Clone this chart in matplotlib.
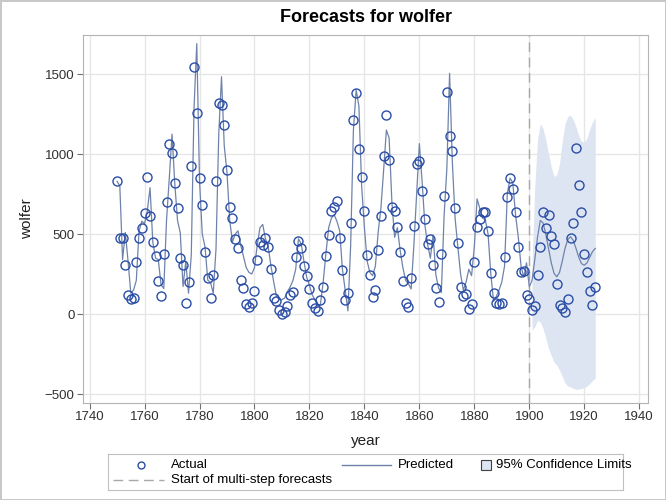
import numpy as np
import matplotlib.pyplot as plt
from matplotlib.lines import Line2D
from matplotlib.patches import Rectangle

plt.rcParams['font.family'] = ['Liberation Sans', 'DejaVu Sans']

# ---------------- Data ----------------

years = np.arange(1750, 1925)
wolfer = [
    834, 477, 478, 307, 122, 96, 102, 324, 476, 540,
    629, 859, 612, 451, 364, 209, 114, 378, 698, 1061,
    1008, 816, 665, 348, 306, 70, 198, 925, 1544, 1259,
    848, 681, 385, 228, 102, 241, 829, 1320, 1309, 1181,
    899, 666, 600, 469, 410, 213, 160, 64, 41, 68,
    145, 340, 450, 431, 475, 422, 281, 101, 81, 25,
    0, 14, 50, 122, 139, 354, 458, 411, 301, 239,
    156, 66, 40, 18, 85, 166, 363, 496, 642, 670,
    709, 478, 275, 85, 132, 569, 1215, 1383, 1032, 857,
    646, 367, 242, 107, 150, 401, 615, 985, 1247, 963,
    666, 645, 541, 390, 206, 67, 43, 227, 548, 938,
    958, 772, 591, 440, 470, 305, 163, 73, 376, 740,
    1390, 1112, 1016, 662, 447, 170, 113, 124, 34, 60,
    323, 543, 597, 637, 635, 522, 254, 131, 68, 63,
    71, 356, 730, 849, 780, 640, 418, 262, 267, 121,
    95, 27, 50, 244, 420, 635, 538, 620, 485, 439,
    186, 57, 36, 14, 96, 474, 571, 1039, 806, 636,
    376, 261, 142, 58, 167,
]
predicted = [
    830, 800, 340, 510, 330, 130, 150, 210, 520, 580,
    565, 645, 790, 450, 350, 340, 184, 159, 588, 850,
    1125, 814, 585, 507, 172, 329, 130, 369, 1286, 1690,
    831, 500, 420, 212, 197, 130, 408, 1124, 1483, 1052,
    884, 582, 452, 500, 520, 430, 360, 290, 260, 250,
    290, 430, 540, 560, 470, 420, 300, 200, 110, 90,
    90, 100, 140, 170, 210, 280, 470, 440, 330, 230,
    180, 120, 90, 50, 60, 200, 380, 540, 600, 620,
    580, 520, 280, 150, 20, 430, 1150, 1400, 1300, 800,
    540, 330, 260, 240, 300, 510, 660, 900, 1150, 1100,
    700, 480, 540, 400, 290, 210, 190, 157, 428, 746,
    1065, 828, 558, 435, 349, 494, 245, 162, 134, 613,
    909, 1504, 950, 600, 420, 250, 150, 200, 280, 240,
    420, 720, 660, 600, 590, 500, 250, 80, 110, 150,
    200, 300, 750, 850, 820, 620, 480, 300, 230, 320,
    170, 210, 340, 480, 585, 570, 500, 410, 320, 255,
    233, 260, 330, 410, 465, 483, 460, 410, 355, 315,
    305, 320, 355, 390, 410,
]

forecast_years = np.arange(1901, 1925)
lower95 = [-100, -80, -40, -50, -90, -150, -215, -260, -300, -320, -350, -390,
           -430, -450, -455, -465, -470, -470, -465, -460, -450, -435, -415, -400]
upper95 = [300, 800, 1090, 1190, 1160, 1090, 1000, 920, 860, 870, 940, 1080,
           1190, 1235, 1243, 1215, 1170, 1115, 1080, 1075, 1100, 1155, 1200, 1230]
forecast_start = 1900

x_ticks = list(range(1740, 1941, 20))
y_ticks = [-500, 0, 500, 1000, 1500]

# ---------------- Style ----------------

MARKER_COLOR = "#2A4DA6"
LINE_COLOR = "#6F83AA"
BAND_COLOR = "#DDE5F2"
REF_COLOR = "#A8A8A8"
GRID_COLOR = "#E6E6E6"
FRAME_COLOR = "#B4B4B4"

fig = plt.figure(figsize=(6.66, 5.0), dpi=100, edgecolor="#C8C8C8", linewidth=1)
ax = fig.add_axes([83 / 666, 1 - 403 / 500, (648 - 83) / 666, (403 - 35) / 500])

ax.fill_between(forecast_years, lower95, upper95, color=BAND_COLOR, lw=0, zorder=1)
ax.axvline(forecast_start, color=REF_COLOR, lw=1, dashes=(7, 4), zorder=2)
ax.plot(years, predicted, color=LINE_COLOR, lw=0.9, zorder=3)
ax.plot(years, wolfer, ls="none", marker="o", ms=6.5, mfc="none",
        mec=MARKER_COLOR, mew=1, zorder=4)

ax.set_xlim(1737.6, 1943.2)
ax.set_ylim(-556, 1744)
ax.set_xticks(x_ticks)
ax.set_yticks(y_ticks)
ax.grid(True, color=GRID_COLOR, lw=1)
ax.set_axisbelow(True)
for sp in ax.spines.values():
    sp.set_color(FRAME_COLOR)
ax.tick_params(colors="#707070", labelcolor="#303030", labelsize=9.5,
               length=4, pad=2)

ax.set_xlabel("year", fontsize=11, color="#202020", labelpad=8)
ax.set_ylabel("wolfer", fontsize=11, color="#202020", labelpad=8)
ax.set_title("Forecasts for wolfer", fontsize=13, fontweight="bold", pad=9)

# ---------------- Legend ----------------

leg = fig.add_axes([108 / 666, 1 - 490 / 500, (623 - 108) / 666, 36 / 500])
leg.set_xlim(108, 623)
leg.set_ylim(490, 454)
leg.set_xticks([])
leg.set_yticks([])
for sp in leg.spines.values():
    sp.set_color("#C0C0C0")

fs = 9.5
leg.add_line(Line2D([140.5], [465], ls="none", marker="o", ms=5, mfc="none",
                    mec=MARKER_COLOR, mew=1))
leg.text(171, 465, "Actual", fontsize=fs, va="center")
leg.add_line(Line2D([342, 391], [465, 465], color=LINE_COLOR, lw=1))
leg.text(398, 465, "Predicted", fontsize=fs, va="center")
leg.add_patch(Rectangle((481, 460), 10, 10, facecolor=BAND_COLOR,
                        edgecolor="#404040", lw=0.8))
leg.text(496, 465, "95% Confidence Limits", fontsize=fs, va="center")
leg.add_line(Line2D([113, 164], [480, 480], color=REF_COLOR, lw=1, dashes=(7, 4)))
leg.text(171, 480, "Start of multi-step forecasts", fontsize=fs, va="center")

fig.savefig("out.png", dpi=100)
